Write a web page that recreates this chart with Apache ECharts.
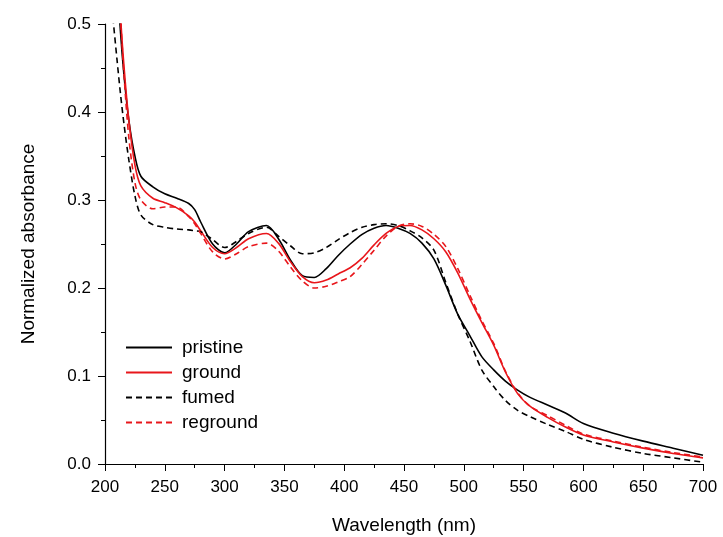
<!DOCTYPE html>
<html>
<head>
<meta charset="utf-8">
<script src="https://cdn.jsdelivr.net/npm/echarts@6/dist/echarts.min.js"></script>
<style>
  html, body { margin: 0; padding: 0; background: #fff; }
  #chart { width: 723px; height: 537px; }
</style>
</head>
<body>
<div id="chart"></div>
<script>
const wavelengths = [205, 210, 213, 216, 220, 225, 230, 240, 250, 260, 270, 275, 280, 290, 300, 310, 320, 335, 345, 355, 365, 375, 385, 395, 405, 415, 425, 435, 445, 455, 465, 475, 485, 495, 505, 515, 525, 535, 545, 555, 570, 585, 600, 625, 650, 675, 700];

const pristine = [0.9, 0.56, 0.49, 0.44, 0.39, 0.35, 0.327, 0.315, 0.307, 0.302, 0.296, 0.289, 0.275, 0.25, 0.24, 0.25, 0.264, 0.271, 0.256, 0.232, 0.214, 0.212, 0.222, 0.237, 0.25, 0.261, 0.268, 0.271, 0.268, 0.262, 0.251, 0.233, 0.203, 0.17, 0.146, 0.122, 0.107, 0.094, 0.084, 0.076, 0.067, 0.058, 0.046, 0.035, 0.026, 0.018, 0.01];
const ground = [1.0, 0.62, 0.51, 0.45, 0.39, 0.34, 0.316, 0.302, 0.297, 0.291, 0.282, 0.275, 0.265, 0.246, 0.239, 0.246, 0.256, 0.262, 0.251, 0.23, 0.213, 0.206, 0.209, 0.216, 0.223, 0.234, 0.249, 0.262, 0.27, 0.271, 0.266, 0.256, 0.241, 0.217, 0.188, 0.161, 0.135, 0.104, 0.08, 0.066, 0.053, 0.042, 0.033, 0.025, 0.018, 0.012, 0.007];
const fumed = [0.53, 0.46, 0.42, 0.385, 0.345, 0.305, 0.283, 0.272, 0.269, 0.267, 0.266, 0.265, 0.264, 0.255, 0.246, 0.253, 0.262, 0.269, 0.259, 0.248, 0.239, 0.24, 0.246, 0.255, 0.263, 0.269, 0.272, 0.273, 0.271, 0.265, 0.257, 0.243, 0.206, 0.17, 0.14, 0.107, 0.088, 0.072, 0.061, 0.054, 0.045, 0.037, 0.028, 0.019, 0.012, 0.007, 0.002];
const reground = [1.0, 0.62, 0.51, 0.44, 0.37, 0.32, 0.3, 0.29, 0.292, 0.292, 0.281, 0.273, 0.262, 0.241, 0.233, 0.239, 0.247, 0.251, 0.242, 0.224, 0.208, 0.2, 0.202, 0.207, 0.213, 0.227, 0.243, 0.259, 0.27, 0.273, 0.27, 0.261, 0.247, 0.222, 0.192, 0.163, 0.137, 0.105, 0.081, 0.066, 0.055, 0.044, 0.034, 0.026, 0.019, 0.013, 0.008];

const seriesNames = ['pristine', 'ground', 'fumed', 'reground'];
const xTicks = { min: 200, max: 700, interval: 50 };
const yTicks = { min: 0, max: 0.5, interval: 0.1 };

const pair = (ys) => wavelengths.map((w, i) => [w, ys[i]]);
const font = 'Liberation Sans, Arial, sans-serif';

const makeLine = (name, ys, color, dashed) => ({
  name,
  type: 'line',
  data: pair(ys),
  smooth: 0.3,
  symbol: 'none',
  clip: true,
  lineStyle: { color, width: 1.6, type: dashed ? [6, 4] : 'solid' },
  itemStyle: { color },
});

const chart = echarts.init(document.getElementById('chart'));
chart.setOption({
  backgroundColor: '#fff',
  animation: false,
  grid: { left: 105, right: 20, top: 24, bottom: 73, outerBoundsMode: 'none' },
  legend: {
    orient: 'vertical',
    left: 120,
    top: 333,
    itemWidth: 46,
    itemHeight: 14,
    itemGap: 6,
    itemStyle: { opacity: 0 },
    textStyle: { fontFamily: font, fontSize: 19, color: '#000', padding: [0, 0, 0, 5] },
    data: seriesNames,
  },
  xAxis: {
    type: 'value',
    ...xTicks,
    name: 'Wavelength (nm)',
    nameLocation: 'middle',
    nameGap: 52,
    nameTextStyle: { fontFamily: font, fontSize: 19, color: '#000' },
    axisLine: { lineStyle: { color: '#000', width: 1.2 } },
    axisTick: { inside: false, length: 7, lineStyle: { color: '#000' } },
    minorTick: { show: true, splitNumber: 2, length: 4, lineStyle: { color: '#000' } },
    axisLabel: { fontFamily: font, fontSize: 17, color: '#000', margin: 15 },
    splitLine: { show: false },
  },
  yAxis: {
    type: 'value',
    ...yTicks,
    name: 'Normalized absorbance',
    nameLocation: 'middle',
    nameGap: 67,
    nameTextStyle: { fontFamily: font, fontSize: 19, color: '#000' },
    axisLine: { show: true, lineStyle: { color: '#000', width: 1.2 } },
    axisTick: { show: true, inside: false, length: 7, lineStyle: { color: '#000' } },
    minorTick: { show: true, splitNumber: 2, length: 4, lineStyle: { color: '#000' } },
    axisLabel: { fontFamily: font, fontSize: 17, color: '#000', margin: 14, formatter: (v) => v.toFixed(1) },
    splitLine: { show: false },
  },
  series: [
    makeLine('pristine', pristine, '#000000', false),
    makeLine('ground', ground, '#e8161b', false),
    makeLine('fumed', fumed, '#000000', true),
    makeLine('reground', reground, '#e8161b', true),
  ],
});
</script>
</body>
</html>
